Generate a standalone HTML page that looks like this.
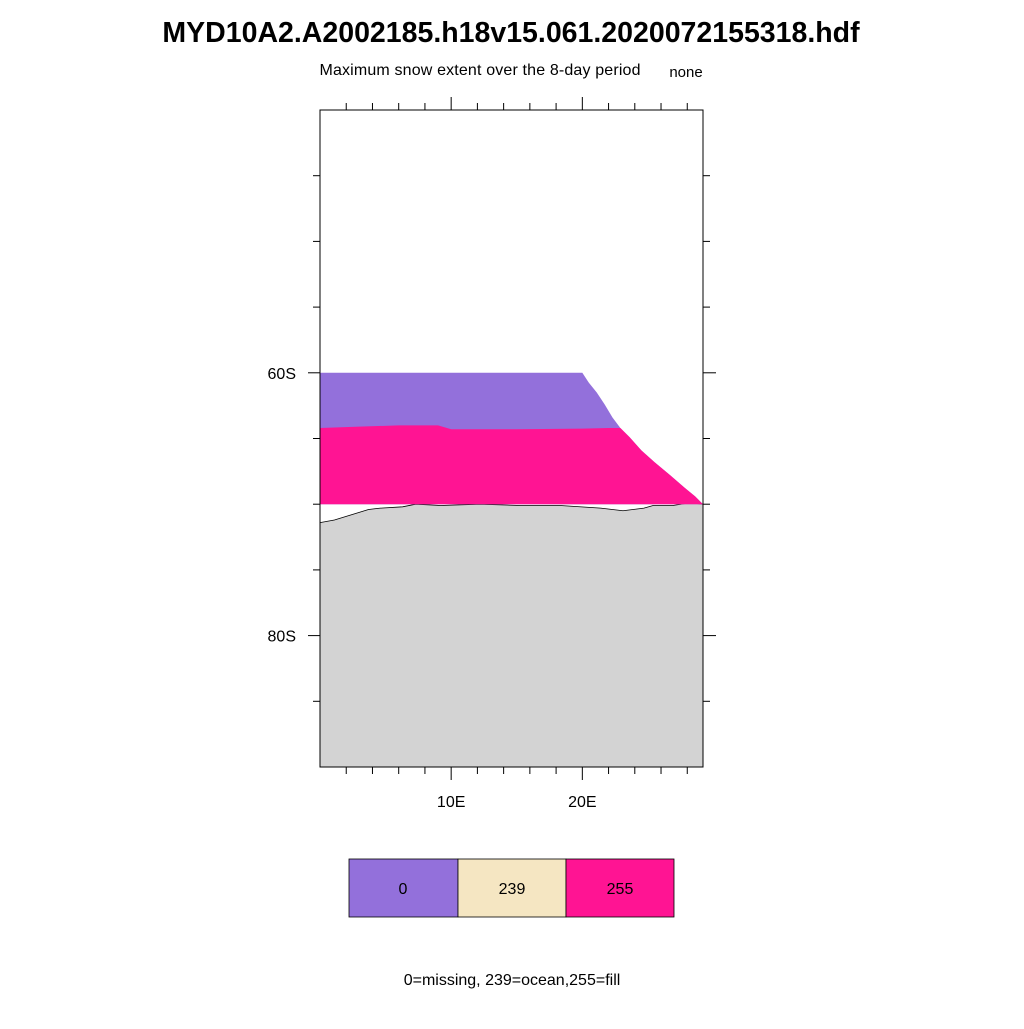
<!DOCTYPE html>
<html><head><meta charset="utf-8"><style>
body{margin:0;background:#fff;width:1024px;height:1024px;overflow:hidden;font-family:"Liberation Sans",sans-serif}
</style></head><body>
<svg width="1024" height="1024" viewBox="0 0 1024 1024">
<text x="511" y="42" text-anchor="middle" font-size="28.5" font-weight="bold" font-family="Liberation Sans, sans-serif">MYD10A2.A2002185.h18v15.061.2020072155318.hdf</text>
<text x="480" y="75" text-anchor="middle" font-size="16" textLength="321" font-family="Liberation Sans, sans-serif">Maximum snow extent over the 8-day period</text>
<text x="686" y="77" text-anchor="middle" font-size="15" font-family="Liberation Sans, sans-serif">none</text>
<g id="plot"></g>
<g>
<rect x="349" y="859" width="109" height="58" fill="#9370db" stroke="#000" stroke-width="0.8"/>
<rect x="458" y="859" width="108" height="58" fill="#f5e6c2" stroke="#000" stroke-width="0.8"/>
<rect x="566" y="859" width="108" height="58" fill="#ff1493" stroke="#000" stroke-width="0.8"/>
<text x="403" y="894" text-anchor="middle" font-size="16">0</text>
<text x="512" y="894" text-anchor="middle" font-size="16">239</text>
<text x="620" y="894" text-anchor="middle" font-size="16">255</text>
</g>
<text x="512" y="985" text-anchor="middle" font-size="16">0=missing, 239=ocean,255=fill</text>
</svg>
<script>
const lonRange=[0,29.2];
const latRange=[40,90]; // degrees south, top to bottom
const missingTopLat=60;
const fillTopLon=[0,3,6,9,10,15,20,22,22.9];
const fillTopLat=[64.2,64.1,64.0,64.0,64.3,64.3,64.25,64.2,64.2];
const edgeLon=[20,20.5,21.1,21.7,22.3,22.9,23.6,24.5,25.5,26.7,27.8,28.6,29.2];
const edgeLat=[60,60.76,61.5,62.4,63.4,64.2,64.9,65.9,66.8,67.8,68.75,69.4,70];
const coastLon=[0,1.1,2.4,3.7,4.6,6.3,7.3,9.2,12.2,15.3,18.3,21.4,23.1,24.7,25.4,26.9,28.2,29.2];
const coastLat=[71.4,71.2,70.8,70.4,70.3,70.2,70,70.1,70,70.1,70.1,70.3,70.5,70.3,70.1,70.1,69.9,70];
const xTickLon=[10,20], xTickLabels=["10E","20E"];
const yTickLat=[60,80], yTickLabels=["60S","80S"];
const L=320,R=703,T=110,B=767;
const X=v=>L+(v-lonRange[0])/(lonRange[1]-lonRange[0])*(R-L);
const Y=v=>T+(v-latRange[0])/(latRange[1]-latRange[0])*(B-T);
const ns="http://www.w3.org/2000/svg",g=document.getElementById('plot');
function mk(t,a){const e=document.createElementNS(ns,t);for(const k in a)e.setAttribute(k,a[k]);g.appendChild(e);return e;}
let land="M"+X(coastLon[0])+","+Y(coastLat[0]);
coastLon.forEach((v,i)=>land+=" L"+X(v)+","+Y(coastLat[i]));
land+=` L${R},${B} L${L},${B} Z`;
let e=mk('path',{d:land,fill:'#d3d3d3',stroke:'#000','stroke-width':0.8});


let pd=`M${X(0)},${Y(missingTopLat)}`;
edgeLon.forEach((v,i)=>pd+=` L${X(v)},${Y(edgeLat[i])}`);
pd+=` L${X(0)},${Y(70)} Z`;
e=mk('path',{d:pd,fill:'#9370db'});


let fd=`M${X(fillTopLon[0])},${Y(fillTopLat[0])}`;
fillTopLon.forEach((v,i)=>fd+=` L${X(v)},${Y(fillTopLat[i])}`);
edgeLon.forEach((v,i)=>{if(edgeLat[i]>=64.2)fd+=` L${X(v)},${Y(edgeLat[i])}`;});
fd+=` L${X(0)},${Y(70)} Z`;
e=mk('path',{d:fd,fill:'#ff1493'});


e=mk('rect',{x:L,y:T,width:R-L,height:B-T,fill:'none',stroke:'#000','stroke-width':1});


for(let lon=2;lon<29;lon+=2){const x=X(lon),maj=lon%10==0;
 mk('line',{x1:x,x2:x,y1:T,y2:T-(maj?13:7),stroke:'#000'});
 mk('line',{x1:x,x2:x,y1:B,y2:B+(maj?13:7),stroke:'#000'});}
for(let lat=45;lat<90;lat+=5){const y=Y(lat),maj=lat%20==0;
 mk('line',{x1:L,x2:L-(maj?12:7),y1:y,y2:y,stroke:'#000'});
 mk('line',{x1:R,x2:R+(maj?13:7),y1:y,y2:y,stroke:'#000'});}
xTickLon.forEach((v,i)=>{const t=mk('text',{x:X(v),y:807,'text-anchor':'middle','font-size':16});t.textContent=xTickLabels[i];

});
yTickLat.forEach((v,i)=>{const t=mk('text',{x:296,y:Y(v)+6,'text-anchor':'end','font-size':16});t.textContent=yTickLabels[i];

});
</script>
</body></html>
